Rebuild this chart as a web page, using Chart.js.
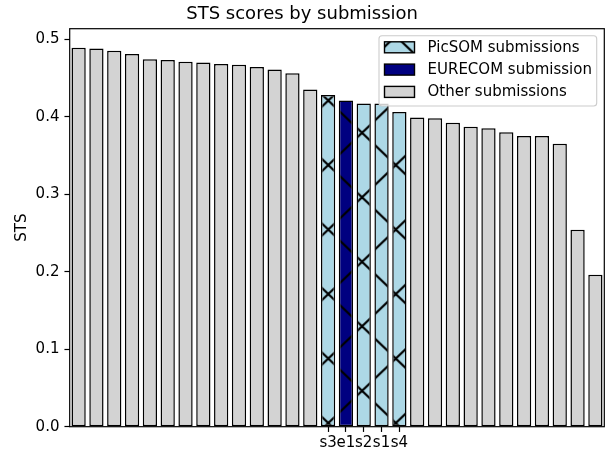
<!DOCTYPE html>
<html><head><meta charset="utf-8">
<script src="https://cdn.jsdelivr.net/npm/chart.js@4.4.1/dist/chart.umd.min.js"></script>
<style>html,body{margin:0;padding:0;background:#fff}#wrap{width:615px;height:454px}canvas{display:block}</style>
</head><body><div id="wrap"><canvas id="c" width="615" height="454"></canvas></div>
<script>
// ---- data ----
const categories = ['o1','o2','o3','o4','o5','o6','o7','o8','o9','o10','o11','o12','o13','o14',
  's3','e1','s2','s1','s4',
  'o15','o16','o17','o18','o19','o20','o21','o22','o23','o24','o25'];
const stsScores = [0.489,0.488,0.485,0.481,0.474,0.473,0.471,0.470,0.468,0.467,0.464,0.461,0.456,0.435,
  0.428,0.421,0.417,0.417,0.406,
  0.399,0.398,0.392,0.387,0.385,0.380,0.375,0.375,0.365,0.254,0.196];
const groups = ['other','other','other','other','other','other','other','other','other','other','other','other','other','other',
  'picsom','eurecom','picsom','picsom','picsom',
  'other','other','other','other','other','other','other','other','other','other','other'];
const shownTicks = ['s3','e1','s2','s1','s4'];
const yTicks = [0.0,0.1,0.2,0.3,0.4,0.5];
const seriesKeys = ['picsom','eurecom','other'];
const seriesNames = ['PicSOM submissions','EURECOM submission','Other submissions'];

// ---- styling ----
Chart.defaults.font.family = "'DejaVu Sans', sans-serif";
Chart.defaults.color = '#000';
const canvas = document.getElementById('c');
const ctx = canvas.getContext('2d');

function makeHatch(bg){
  // tile holds two hatch periods in each direction
  const W = 135, H = 129, px = W/2, py = H/2, s = py/px;
  const cv = document.createElement('canvas');
  cv.width = W; cv.height = H;
  const g = cv.getContext('2d');
  g.fillStyle = bg; g.fillRect(0,0,W,H);
  g.strokeStyle = '#000'; g.lineWidth = 2.2;
  g.beginPath();
  for (let k = -4; k <= 6; k++) {
    const c = k*py;
    g.moveTo(-10, c - 10*s); g.lineTo(W + 10, c + (W + 10)*s);
    g.moveTo(-10, c + 10*s); g.lineTo(W + 10, c - (W + 10)*s);
  }
  g.stroke();
  const p = ctx.createPattern(cv, 'repeat');
  p.setTransform(new DOMMatrix().translate(328.3, 165));
  return p;
}
const seriesFill = {
  picsom: makeHatch('#add8e6'),
  eurecom: makeHatch('#000080'),
  other: '#d3d3d3'
};

const datasets = seriesKeys.map((k, si) => ({
  label: seriesNames[si],
  data: stsScores.map((v, i) => groups[i] === k ? v : null),
  backgroundColor: seriesFill[k],
  borderColor: '#000',
  borderWidth: 1.5,
  borderSkipped: false,
  grouped: false,
  barPercentage: 0.8,
  categoryPercentage: 1.0
}));

const framePlugin = {
  id: 'frame',
  afterDatasetsDraw(chart) {
    const {ctx, chartArea: a} = chart;
    ctx.save();
    ctx.strokeStyle = '#000'; ctx.lineWidth = 1.2;
    ctx.strokeRect(a.left, a.top, a.right - a.left, a.bottom - a.top);
    // legend inside plot (upper right)
    const bw = 217.7, bh = 70.3;
    const bx = a.right - 7.6 - bw, by = a.top + 7;
    ctx.beginPath();
    ctx.roundRect(bx, by, bw, bh, 3);
    ctx.fillStyle = 'rgba(255,255,255,0.8)';
    ctx.fill();
    ctx.strokeStyle = '#cccccc'; ctx.lineWidth = 1.1;
    ctx.stroke();
    ctx.font = "15px 'DejaVu Sans'";
    ctx.textBaseline = 'middle';
    chart.data.datasets.forEach((ds, i) => {
      const cy = by + 11.6 + i*22.3;
      ctx.fillStyle = ds.backgroundColor;
      ctx.fillRect(bx + 5.5, cy - 5.5, 30, 11);
      ctx.strokeStyle = '#000'; ctx.lineWidth = 1.4;
      ctx.strokeRect(bx + 5.5, cy - 5.5, 30, 11);
      ctx.fillStyle = '#000';
      ctx.fillText(ds.label, bx + 48.5, cy + 0.5);
    });
    ctx.restore();
  }
};

new Chart(canvas, {
  type: 'bar',
  data: { labels: categories, datasets },
  options: {
    responsive: false,
    devicePixelRatio: 1,
    animation: false,
    layout: { padding: { left: 0, right: 10.7, top: 0, bottom: 0 } },
    plugins: {
      legend: { display: false },
      tooltip: { enabled: false },
      title: {
        display: true,
        text: 'STS scores by submission',
        font: { size: 18, weight: 'normal' },
        color: '#000',
        padding: { top: 3.2, bottom: 3.9 }
      }
    },
    scales: {
      x: {
        offset: true,
        afterFit: s => { s.height = 27.3; },
        border: { display: false },
        grid: {
          offset: false,
          drawOnChartArea: false,
          drawTicks: true,
          tickLength: 5.25,
          tickWidth: 1.2,
          tickColor: c => shownTicks.includes(categories[c.index]) ? '#000' : 'rgba(0,0,0,0)'
        },
        ticks: {
          autoSkip: false, maxRotation: 0, minRotation: 0,
          font: { size: 15 }, color: '#000', padding: 2,
          callback: (v, i) => shownTicks.includes(categories[i]) ? categories[i] : ''
        }
      },
      y: {
        min: 0, max: 0.5135,
        afterFit: s => { s.width = 69.7; },
        afterBuildTicks: s => { s.ticks = yTicks.map(v => ({ value: v })); },
        border: { display: false },
        grid: { drawOnChartArea: false, drawTicks: true, tickLength: 5.25, tickWidth: 1.2, tickColor: '#000' },
        ticks: { font: { size: 15 }, color: '#000', padding: 5, callback: v => Number(v).toFixed(1) },
        title: { display: true, text: 'STS', font: { size: 15 }, color: '#000', padding: { top: 13, bottom: 0 } }
      }
    }
  },
  plugins: [framePlugin]
});
</script>
</body></html>
